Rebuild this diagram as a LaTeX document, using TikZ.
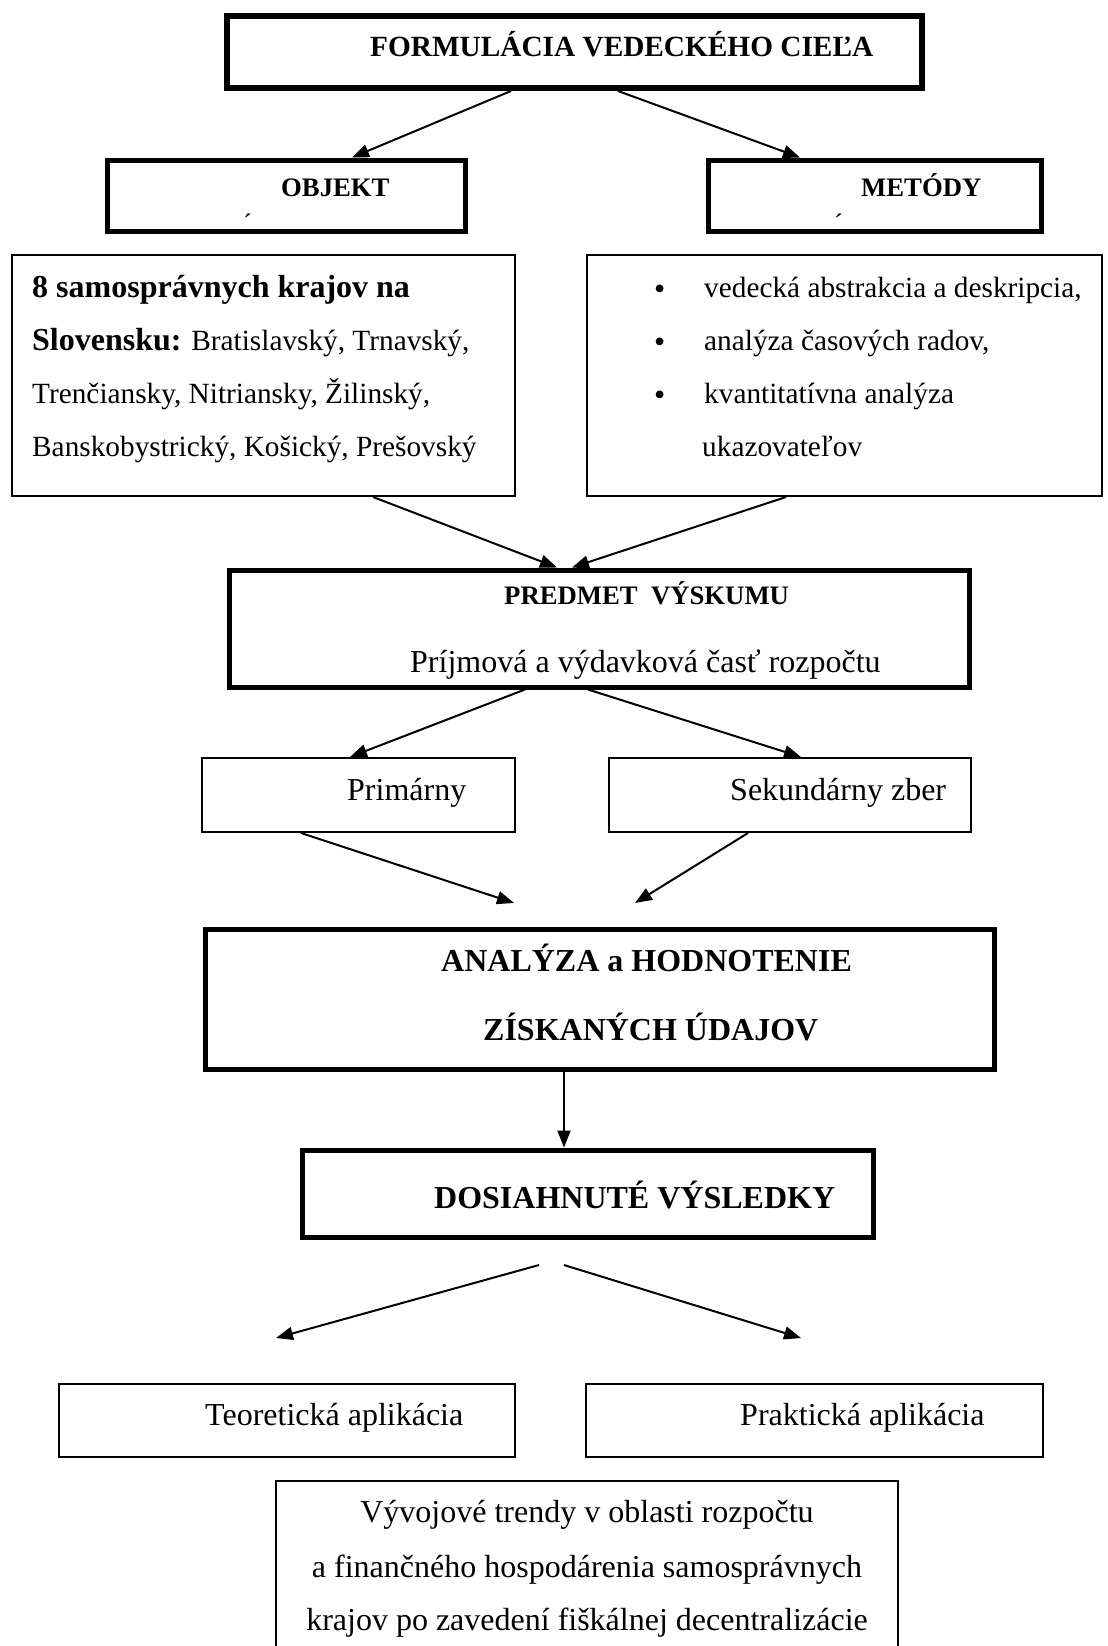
\documentclass[tikz,border=0pt]{standalone}
\usepackage{fontspec}
\setmainfont{Liberation Serif}
\usetikzlibrary{arrows.meta}

% font sizes (1 unit = 1pt)
\newcommand{\fsmall}{\fontsize{26.7}{32}\selectfont}
\newcommand{\fmid}{\fontsize{29.3}{35}\selectfont}
\newcommand{\fbig}{\fontsize{32}{38}\selectfont}

\tikzset{
  box/.style={draw, rectangle, inner sep=0pt},
  heavybox/.style={box, line width=5pt},
  toplinebox/.style={box, line width=6pt},
  lightbox/.style={box, line width=2pt},
  txt/.style={anchor=base west, inner sep=0pt},
  ctxt/.style={anchor=base, inner sep=0pt},
  arr/.style={line width=2pt, -{Triangle[length=17pt,width=13pt]}}
}

\begin{document}
\begin{tikzpicture}[x=1pt,y=-1pt]
\useasboundingbox (0,0) rectangle (1108,1646);
\clip (0,0) rectangle (1108,1646);

% ---- boxes ----
\node[toplinebox, minimum width=695, minimum height=72] (top) at (574.5,52) {};
\node[heavybox, minimum width=358, minimum height=71] (objekt) at (286,195.5) {};
\node[heavybox, minimum width=333, minimum height=71] (metody) at (874.5,195.5) {};
\node[lightbox, minimum width=503, minimum height=241] (kraje) at (263.5,375.5) {};
\node[lightbox, minimum width=515, minimum height=241] (metlist) at (844.5,375.5) {};
\node[heavybox, minimum width=740, minimum height=117] (predmet) at (599,628.5) {};
\node[lightbox, minimum width=313, minimum height=74] (primarny) at (358.5,795) {};
\node[lightbox, minimum width=362, minimum height=74] (sekundarny) at (790,795) {};
\node[heavybox, minimum width=789, minimum height=140] (analyza) at (599.5,999) {};
\node[heavybox, minimum width=571, minimum height=87] (vysledky) at (587.5,1193.5) {};
\node[lightbox, minimum width=456, minimum height=73] (teoria) at (287,1420.5) {};
\node[lightbox, minimum width=457, minimum height=73] (prax) at (814.5,1420.5) {};
\node[lightbox, minimum width=622, minimum height=219] (trendy) at (587,1590.5) {};

% ---- texts ----
\node[txt] (tcie) at (370,57) {\fmid\bfseries FORMULÁCIA VEDECKÉHO CIEĽA};
\node[txt] (tobj) at (281,196) {\fsmall\bfseries OBJEKT};
\node[txt] (tobjm) at (243,232) {\fsmall ´};
\node[txt] (tmet) at (861,196) {\fsmall\bfseries METÓDY};
\node[txt] (tmetm) at (834,232) {\fsmall ´};

\node[txt] (k1) at (32,297) {\fbig\bfseries 8 samosprávnych krajov na};
\node[txt] (k2) at (32,350) {\fmid{\fbig\bfseries Slovensku:} Bratislavský, Trnavský,};
\node[txt] (k3) at (32,403) {\fmid Trenčiansky, Nitriansky, Žilinský,};
\node[txt] (k4) at (32,456) {\fmid Banskobystrický, Košický, Prešovský};

\node[txt] (b1) at (654,299) {\fbig •};
\node[txt] (b2) at (654,352) {\fbig •};
\node[txt] (b3) at (654,405) {\fbig •};
\node[txt] (m1) at (704,297) {\fmid vedecká abstrakcia a deskripcia,};
\node[txt] (m2) at (704,350) {\fmid analýza časových radov,};
\node[txt] (m3) at (704,403) {\fmid kvantitatívna analýza};
\node[txt] (m4) at (702,456) {\fmid ukazovateľov};

\node[txt] (tpred) at (504,604) {\fsmall\bfseries PREDMET\ \ VÝSKUMU};
\node[txt] (tpred2) at (410,672) {\fbig Príjmová a výdavková časť rozpočtu};

\node[txt] (tprim) at (347,800) {\fbig Primárny};
\node[txt] (tsek) at (730,800) {\fbig Sekundárny zber};

\node[txt] (tan1) at (441,971) {\fbig\bfseries ANALÝZA a HODNOTENIE};
\node[txt] (tan2) at (483,1040) {\fbig\bfseries ZÍSKANÝCH ÚDAJOV};

\node[txt] (tvys) at (434,1208) {\fbig\bfseries DOSIAHNUTÉ VÝSLEDKY};

\node[txt] (tteo) at (205,1425) {\fbig Teoretická aplikácia};
\node[txt] (tpra) at (740,1425) {\fbig Praktická aplikácia};

\node[ctxt] (tr1) at (587,1522) {\fbig Vývojové trendy v oblasti rozpočtu};
\node[ctxt] (tr2) at (587,1577) {\fbig a finančného hospodárenia samosprávnych};
\node[ctxt] (tr3) at (587,1630) {\fbig krajov po zavedení fiškálnej decentralizácie};

% ---- free arrow ends ----
\coordinate (join1) at (514,903);
\coordinate (join2) at (635,903);
\coordinate (split0a) at (539,1265);
\coordinate (split0b) at (564,1265);
\coordinate (split1) at (276,1338);
\coordinate (split2) at (801,1338);

% ---- connectors ----
\draw[arr] ([xshift=-63.5pt]top.south) -- ([xshift=66pt]objekt.north);
\draw[arr] ([xshift=43.5pt]top.south) -- ([xshift=-74.5pt]metody.north);
\draw[arr] ([xshift=109.5pt]kraje.south) -- ([xshift=-42pt]predmet.north);
\draw[arr] ([xshift=-58.5pt]metlist.south) -- ([xshift=-27pt]predmet.north);
\draw[arr] ([xshift=-74pt]predmet.south) -- ([xshift=-8.5pt]primarny.north);
\draw[arr] ([xshift=-11pt]predmet.south) -- ([xshift=11pt]sekundarny.north);
\draw[arr] ([xshift=-57.5pt]primarny.south) -- (join1);
\draw[arr] ([xshift=-42pt]sekundarny.south) -- (join2);
\draw[arr] ([xshift=-35.5pt]analyza.south) -- ([xshift=-23.5pt]vysledky.north);
\draw[arr] (split0a) -- (split1);
\draw[arr] (split0b) -- (split2);
\end{tikzpicture}
\end{document}
